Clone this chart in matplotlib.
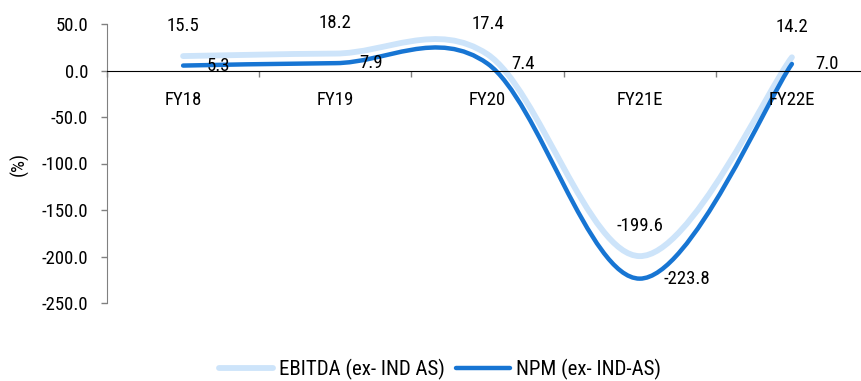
import numpy as np
import matplotlib
matplotlib.use('Agg')
import matplotlib.pyplot as plt
from matplotlib.path import Path
from matplotlib.patches import PathPatch
from matplotlib.lines import Line2D
from matplotlib import font_manager

categories = ['FY18', 'FY19', 'FY20', 'FY21E', 'FY22E']
ebitda = [15.5, 18.2, 17.4, -199.6, 14.2]
npm = [5.3, 7.9, 7.4, -223.8, 7.0]
series_names = ['EBITDA (ex- IND AS)', 'NPM (ex- IND-AS)']
y_ticks = [50, 0, -50, -100, -150, -200, -250]

LIGHT = '#cde4fa'
DARK = '#1775d3'

names = {f.name for f in font_manager.fontManager.ttflist}
for fam in ['Liberation Sans Narrow', 'Roboto Condensed', 'Liberation Sans']:
    if fam in names:
        break
plt.rcParams['font.family'] = [fam, 'DejaVu Sans']
FS = 13.5


def smooth_path(xs, ys):
    # excel-like smoothed line: catmull-rom turned into cubic bezier segments
    pts = np.column_stack([xs, ys]).astype(float)
    n = len(pts)
    verts = [pts[0]]
    codes = [Path.MOVETO]
    for i in range(n - 1):
        p0 = pts[max(i - 1, 0)]
        p1 = pts[i]
        p2 = pts[i + 1]
        p3 = pts[min(i + 2, n - 1)]
        verts += [p1 + (p2 - p0) / 6, p2 - (p3 - p1) / 6, p2]
        codes += [Path.CURVE4] * 3
    return Path(verts, codes)


fig = plt.figure(figsize=(8.62, 3.81), dpi=100)
ax = fig.add_axes([107 / 862, 1 - 303 / 381, 761 / 862, 279 / 381])

x = np.arange(len(categories))
for vals, col, lw in [(ebitda, LIGHT, 4.2), (npm, DARK, 3.2)]:
    patch = PathPatch(smooth_path(x, vals), facecolor='none', edgecolor=col,
                      lw=lw, capstyle='round', joinstyle='round')
    ax.add_patch(patch)

for i, v in enumerate(ebitda):
    ax.annotate(f'{v:.1f}', (x[i], v), xytext=(0, 22), textcoords='offset points',
                ha='center', va='center', fontsize=FS)
for i, v in enumerate(npm):
    ax.annotate(f'{v:.1f}', (x[i], v), xytext=(17, 0), textcoords='offset points',
                ha='left', va='center', fontsize=FS)

ax.set_xlim(-0.5, len(categories) - 0.5)
ax.set_ylim(-250, 50)
ax.set_yticks(y_ticks)
ax.set_yticklabels([f'{t:.1f}' for t in y_ticks], fontsize=FS)
ax.tick_params(axis='y', length=4.5, width=1, color='#808080', pad=9)

ax.spines['top'].set_visible(False)
ax.spines['right'].set_visible(False)
ax.spines['left'].set_color('#808080')
ax.spines['bottom'].set_position(('data', 0))
ax.spines['bottom'].set_color('black')

ax.set_xticks(np.arange(-0.5, len(categories) + 0.5, 1))
ax.set_xticklabels([])
ax.tick_params(axis='x', which='major', length=4.5, width=1, color='#808080', direction='out')
ax.set_xticks(x, minor=True)
ax.set_xticklabels(categories, minor=True, fontsize=FS)
ax.tick_params(axis='x', which='minor', length=0, pad=15)

ax.set_ylabel('(%)', fontsize=FS)
ax.yaxis.set_label_coords(-78 / 761, 0.5)

handles = [Line2D([], [], color=LIGHT, lw=4.2, solid_capstyle='round'),
           Line2D([], [], color=DARK, lw=3.2, solid_capstyle='round')]
fig.legend(handles, series_names, loc='center', bbox_to_anchor=(440 / 862, 1 - 369 / 381),
           ncol=2, frameon=False, fontsize=15, handlelength=2.6, handletextpad=0.3,
           columnspacing=0.5, borderpad=0)

fig.savefig('out.png', dpi=100)
